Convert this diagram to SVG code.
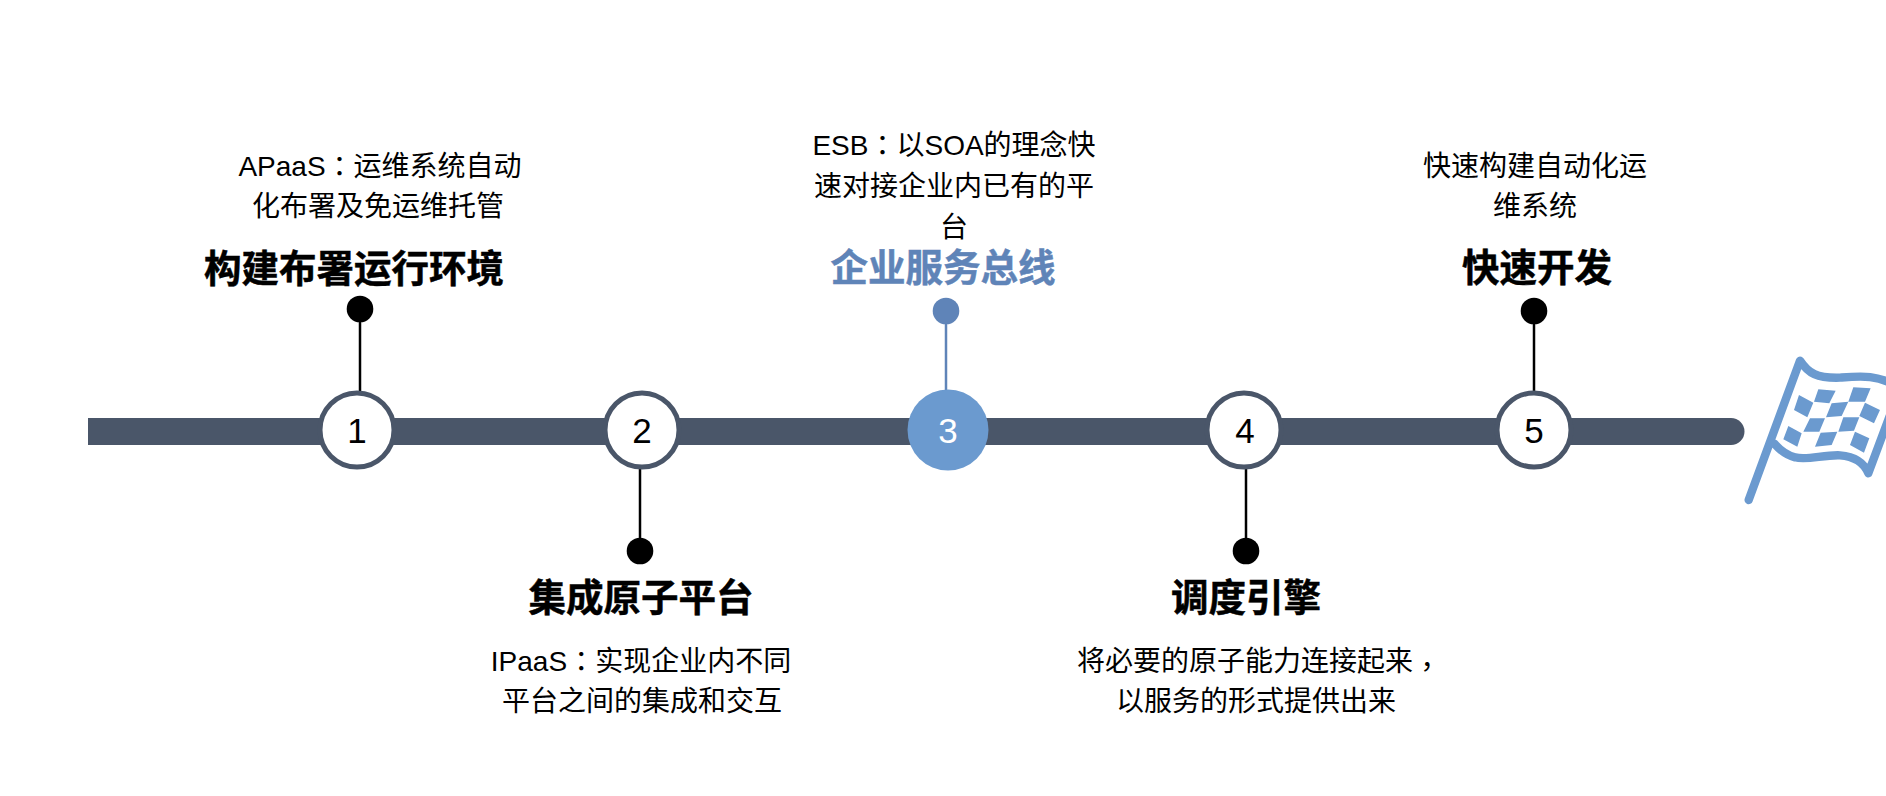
<svg xmlns="http://www.w3.org/2000/svg" width="1886" height="796" viewBox="0 0 1886 796">
<style>
text{font-family:"Liberation Sans","Noto Sans CJK SC",sans-serif;text-anchor:middle}
.p{font-family:"Noto Sans CJK TC",sans-serif}
.b{font-size:28px;fill:#000}
.t{font-size:37.500px;font-weight:700;fill:#000;stroke:#000;stroke-width:.5}
.n{font-size:35px;fill:#000}
.ring{fill:#fff;stroke:#4a5669;stroke-width:5}
.l{stroke:#000;stroke-width:2.500;fill:none}
.l3{stroke:#5f84b8;stroke-width:2.500;fill:none}
.f{fill:none;stroke:#6b9acf;stroke-width:25;stroke-linecap:round;stroke-linejoin:round}
</style>
<rect width="1886" height="796" fill="#fff"/>
<g id="connectors">
<line class="l" x1="360" y1="309" x2="360" y2="392"/>
<line class="l" x1="640" y1="468" x2="640" y2="551"/>
<line class="l3" x1="946" y1="311" x2="946" y2="392"/>
<line class="l" x1="1246" y1="468" x2="1246" y2="551"/>
<line class="l" x1="1534" y1="311" x2="1534" y2="392"/>
</g>
<g id="bar"><path d="M88 418H1731a13.500 13.500 0 0 1 0 27H88z" fill="#4a5669"/></g>
<g id="node1">
<circle cx="357" cy="430" r="37" class="ring"/><text x="357" y="443" class="n">1</text>
<circle cx="360" cy="309" r="13.300" fill="#000"/>
<text x="380" y="176" class="b">APaaS<tspan class="p" dy="1">：</tspan><tspan dy="-1">运维系统自动</tspan></text><text x="378" y="216" class="b">化布署及免运维托管</text>
<text x="354" y="282" class="t">构建布署运行环境</text>
</g>
<g id="node2">
<circle cx="642" cy="430" r="37" class="ring"/><text x="642" y="443" class="n">2</text>
<circle cx="640" cy="551" r="13.300" fill="#000"/>
<text x="641" y="611" class="t">集成原子平台</text>
<text x="641" y="671" class="b">IPaaS<tspan class="p" dy="1">：</tspan><tspan dy="-1">实现企业内不同</tspan></text><text x="642" y="711" class="b">平台之间的集成和交互</text>
</g>
<g id="node3">
<circle cx="948" cy="430" r="40.500" fill="#6b9acf"/><text x="948" y="443" class="n" style="fill:#fff">3</text>
<circle cx="946" cy="311" r="13.300" fill="#5f84b8"/>
<text x="954" y="155" class="b">ESB<tspan class="p" dy="1">：</tspan><tspan dy="-1">以SOA的理念快</tspan></text><text x="954" y="196" class="b">速对接企业内已有的平</text><text x="954" y="237" class="b">台</text>
<text x="943" y="281" class="t" style="fill:#5f84b8;stroke:#5f84b8">企业服务总线</text>
</g>
<g id="node4">
<circle cx="1244" cy="430" r="37" class="ring"/><text x="1245" y="443" class="n">4</text>
<circle cx="1246" cy="551" r="13.300" fill="#000"/>
<text x="1246" y="611" class="t">调度引擎</text>
<text x="1259" y="671" class="b">将必要的原子能力连接起来<tspan class="p" dy="6">，</tspan></text><text x="1256" y="711" class="b">以服务的形式提供出来</text>
</g>
<g id="node5">
<circle cx="1534" cy="430" r="37" class="ring"/><text x="1534" y="443" class="n">5</text>
<circle cx="1534" cy="311" r="13.300" fill="#000"/>
<text x="1535" y="176" class="b">快速构建自动化运</text><text x="1535" y="216" class="b">维系统</text>
<text x="1537" y="281" class="t">快速开发</text>
</g>
<g id="flag" transform="translate(1700 330) scale(.3333)">
<path class="f" d="M146 510L300 92C325 130 350 145 420 143C480 138 535 132 600 175L505 430C495 405 470 380 420 376C370 374 320 392 285 382C255 375 235 355 222 340"/>
<path fill="#6b9acf" d="M355 178L407 182L388 220L342 215ZM460 172L512 175L495 215L445 215ZM297 195L340 218L322 262L282 240ZM395 220L445 215L425 258L378 262ZM495 218L540 240L522 280L478 258ZM330 265L375 265L358 305L310 305ZM430 262L478 262L462 302L415 305ZM265 288L305 310L292 350L250 328ZM362 308L412 305L395 345L345 350ZM465 305L508 325L492 368L450 345Z"/>
</g>
</svg>
